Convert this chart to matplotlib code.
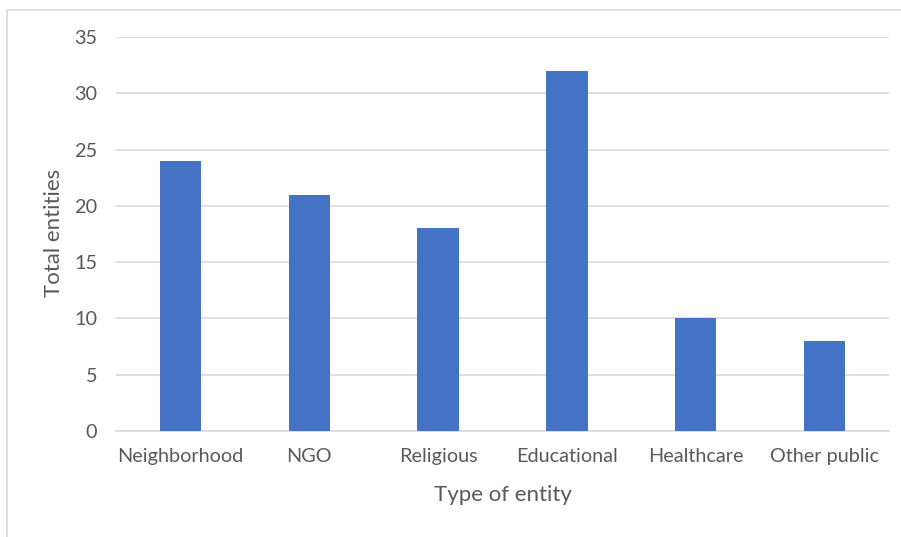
import matplotlib
matplotlib.use("Agg")
import matplotlib.pyplot as plt
from matplotlib.patches import Rectangle

categories = ["Neighborhood", "NGO", "Religious", "Educational", "Healthcare", "Other public"]
totals = [24, 21, 18, 32, 10, 8]
y_ticks = [0, 5, 10, 15, 20, 25, 30, 35]

plt.rcParams['font.family'] = ['Lato', 'DejaVu Sans']
text_col = "#595959"
grid_col = "#d9d9d9"

fig = plt.figure(figsize=(9.01, 5.37), dpi=100)

# outer chart frame (right and bottom edges fall outside the picture)
fig.patches.append(Rectangle((7 / 901, -0.1), 1.2, 1 - 10 / 537 + 0.1,
                             transform=fig.transFigure, fill=False,
                             edgecolor=grid_col, linewidth=1.2))

ax = fig.add_axes([116 / 901, 1 - 431 / 537, (889 - 116) / 901, (431 - 37) / 537])

x = list(range(len(categories)))
ax.bar(x, totals, width=0.32, color="#4472c4", zorder=3)

ax.set_xlim(-0.5, len(categories) - 0.5)
ax.set_ylim(0, 35)
ax.set_yticks(y_ticks)
ax.set_xticks(x)
ax.set_xticklabels(categories)

ax.grid(axis="y", color=grid_col, linewidth=1.2, zorder=0)
for s in ["top", "right", "left"]:
    ax.spines[s].set_visible(False)
ax.spines["bottom"].set_color(grid_col)
ax.spines["bottom"].set_linewidth(1.2)

ax.tick_params(axis="both", length=0, labelsize=14.3, colors=text_col)
ax.tick_params(axis="y", pad=13.7)
ax.tick_params(axis="x", pad=12)

# axis titles placed where the reference has them
fig.text(503 / 901, 1 - 495 / 537, "Type of entity", fontsize=16,
         color=text_col, ha="center", va="center")
fig.text(54 / 901, 1 - 233 / 537, "Total entities", fontsize=16,
         color=text_col, ha="center", va="center", rotation=90)

fig.savefig("out.png", dpi=100)
